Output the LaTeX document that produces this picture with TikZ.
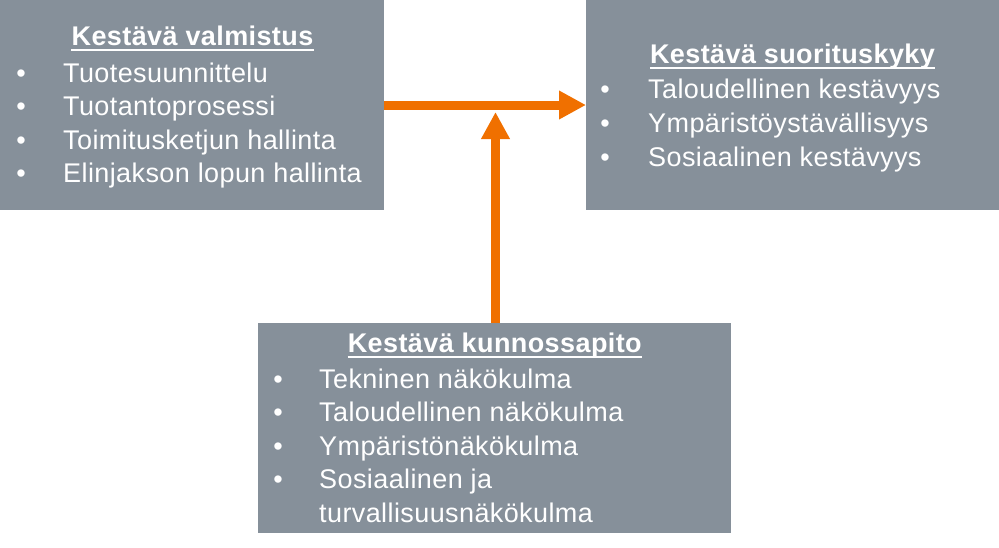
\documentclass[tikz,border=0pt]{standalone}
\usepackage{fontspec}
\setmainfont[LetterSpace=1.5]{Liberation Sans}
\usetikzlibrary{arrows.meta}
\definecolor{boxgray}{RGB}{134,144,154}
\definecolor{arrorange}{RGB}{240,112,0}
\begin{document}
\begin{tikzpicture}[x=1pt,y=-1pt,
  box/.style={fill=boxgray, draw=none, inner sep=0pt, outer sep=0pt, anchor=north west},
  ttl/.style={text=white, font=\fontsize{27}{33}\selectfont\bfseries, anchor=base, inner sep=0pt},
  itm/.style={text=white, font=\fontsize{27}{33}\selectfont, anchor=base west, inner sep=0pt},
  bul/.style={text=white, font=\fontsize{27}{33}\selectfont, anchor=base, inner sep=0pt},
  uline/.style={white, line width=2.5pt},
  conn/.style={arrorange, line width=9pt, -{Triangle[length=27pt,width=27pt]}}
]
\useasboundingbox (0,0) rectangle (999,547);

% boxes
\node[box, minimum width=384pt, minimum height=210pt] (b1) at (0,0) {};
\node[box, minimum width=413pt, minimum height=210pt] (b2) at (586,0) {};
\node[box, minimum width=473pt, minimum height=210pt] (b3) at (258,323) {};

% box 1
\node[ttl] (t1) at (192.5,45.7) {Kestävä valmistus};
\draw[uline] ([yshift=-4.5pt]t1.base west) -- ([yshift=-4.5pt]t1.base east);
\node[bul] (b1a) at (21,82.3) {•};
\node[itm] (i1a) at (63,82.3) {Tuotesuunnittelu};
\node[bul] (b1b) at (21,115.8) {•};
\node[itm] (i1b) at (63,115.8) {Tuotantoprosessi};
\node[bul] (b1c) at (21,149.3) {•};
\node[itm] (i1c) at (63,149.3) {Toimitusketjun hallinta};
\node[bul] (b1d) at (21,182.8) {•};
\node[itm] (i1d) at (63,182.8) {Elinjakson lopun hallinta};

% box 2
\node[ttl] (t2) at (792.5,63.5) {Kestävä suorituskyky};
\draw[uline] ([yshift=-4.5pt]t2.base west) -- ([yshift=-4.5pt]t2.base east);
\node[bul] (b2a) at (605,98) {•};
\node[itm] (i2a) at (648,98) {Taloudellinen kestävyys};
\node[bul] (b2b) at (605,132) {•};
\node[itm] (i2b) at (648,132) {Ympäristöystävällisyys};
\node[bul] (b2c) at (605,166) {•};
\node[itm] (i2c) at (648,166) {Sosiaalinen kestävyys};

% box 3
\node[ttl] (t3) at (494.8,352.5) {Kestävä kunnossapito};
\draw[uline] ([yshift=-4.5pt]t3.base west) -- ([yshift=-4.5pt]t3.base east);
\node[bul] (b3a) at (278,388) {•};
\node[itm] (i3a) at (319,388) {Tekninen näkökulma};
\node[bul] (b3b) at (278,421.5) {•};
\node[itm] (i3b) at (319,421.5) {Taloudellinen näkökulma};
\node[bul] (b3c) at (278,455) {•};
\node[itm] (i3c) at (319,455) {Ympäristönäkökulma};
\node[bul] (b3d) at (278,488.5) {•};
\node[itm] (i3d) at (319,488.5) {Sosiaalinen ja};
\node[itm] (i3e) at (319,522) {turvallisuusnäkökulma};

% connectors
\coordinate (hy) at (0,105);
\coordinate (vtip) at (495.5,112);
\draw[conn] (b1.east |- hy) -- (b2.west |- hy);
\draw[conn] (vtip |- b3.north) -- (vtip);
\end{tikzpicture}
\end{document}
